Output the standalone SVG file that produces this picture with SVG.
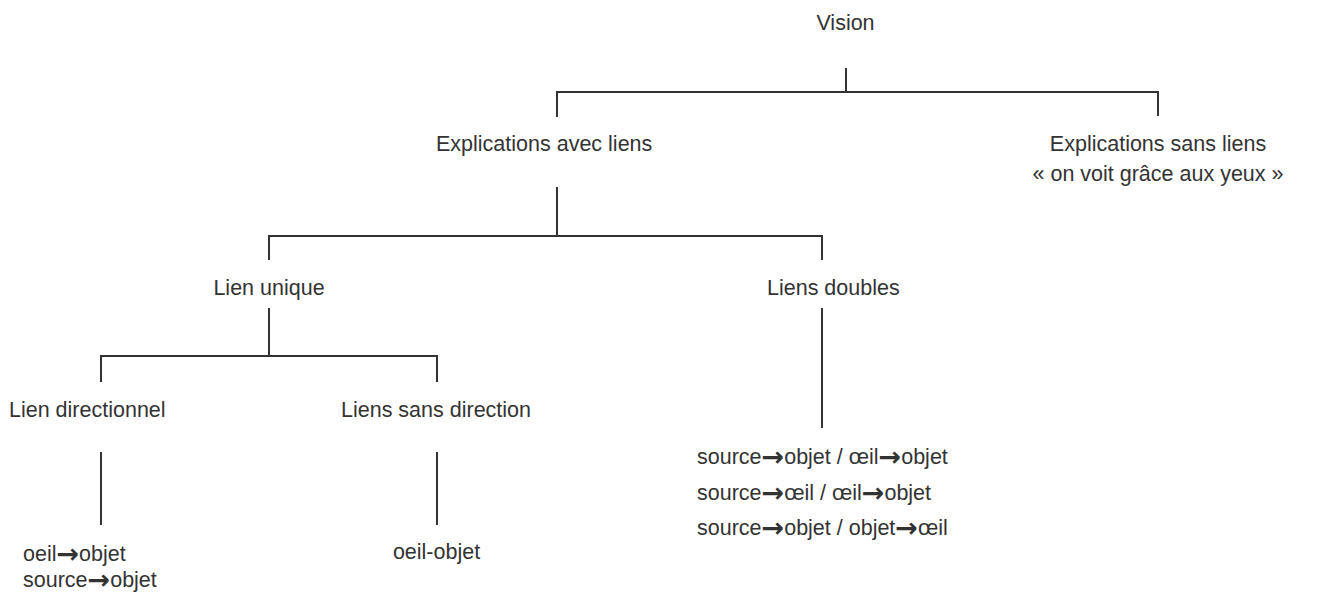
<svg xmlns="http://www.w3.org/2000/svg" width="1330" height="594" viewBox="0 0 1330 594">
<style>
text{font-family:"Liberation Sans",Arial,sans-serif;font-size:21.5px;fill:#333}
.m{text-anchor:middle}
.a{font-family:"DejaVu Sans",sans-serif;font-weight:bold;font-size:27px}
.c{fill:none;stroke:#333;stroke-width:2}
</style>
<rect width="1330" height="594" fill="#fff"/>
<g id="connectors" class="c">
<path d="M846 68V92"/>
<path d="M557 117V92H1158V116"/>
<path d="M557 187V236"/>
<path d="M269 260V236H822V260"/>
<path d="M269 308V356"/>
<path d="M101 382V356H437V382"/>
<path d="M822 308V428"/>
<path d="M101 452V525"/>
<path d="M437 452V525"/>
</g>
<g id="vision"><text class="m" x="845.5" y="30">Vision</text></g>
<g id="avec-liens"><text x="436" y="151">Explications avec liens</text></g>
<g id="sans-liens"><text class="m" x="1158" y="151">Explications sans liens</text><text class="m" x="1158" y="181">« on voit grâce aux yeux »</text></g>
<g id="lien-unique"><text class="m" x="269" y="295">Lien unique</text></g>
<g id="liens-doubles"><text x="767" y="295">Liens doubles</text></g>
<g id="lien-directionnel"><text x="9" y="417">Lien directionnel</text></g>
<g id="liens-sans-direction"><text x="341" y="417">Liens sans direction</text></g>
<g id="directionnel-ex"><text x="23" y="561">oeil<tspan class="a" dy="2">→</tspan><tspan dy="-2">objet</tspan></text><text x="23" y="587">source<tspan class="a" dy="2">→</tspan><tspan dy="-2">objet</tspan></text></g>
<g id="sans-direction-ex"><text class="m" x="436.5" y="559">oeil-objet</text></g>
<g id="doubles-ex"><text x="697" y="464">source<tspan class="a" dy="2">→</tspan><tspan dy="-2">objet / œil</tspan><tspan class="a" dy="2">→</tspan><tspan dy="-2">objet</tspan></text><text x="697" y="500">source<tspan class="a" dy="2">→</tspan><tspan dy="-2">œil / œil</tspan><tspan class="a" dy="2">→</tspan><tspan dy="-2">objet</tspan></text><text x="697" y="535">source<tspan class="a" dy="2">→</tspan><tspan dy="-2">objet / objet</tspan><tspan class="a" dy="2">→</tspan><tspan dy="-2">œil</tspan></text></g>
</svg>
